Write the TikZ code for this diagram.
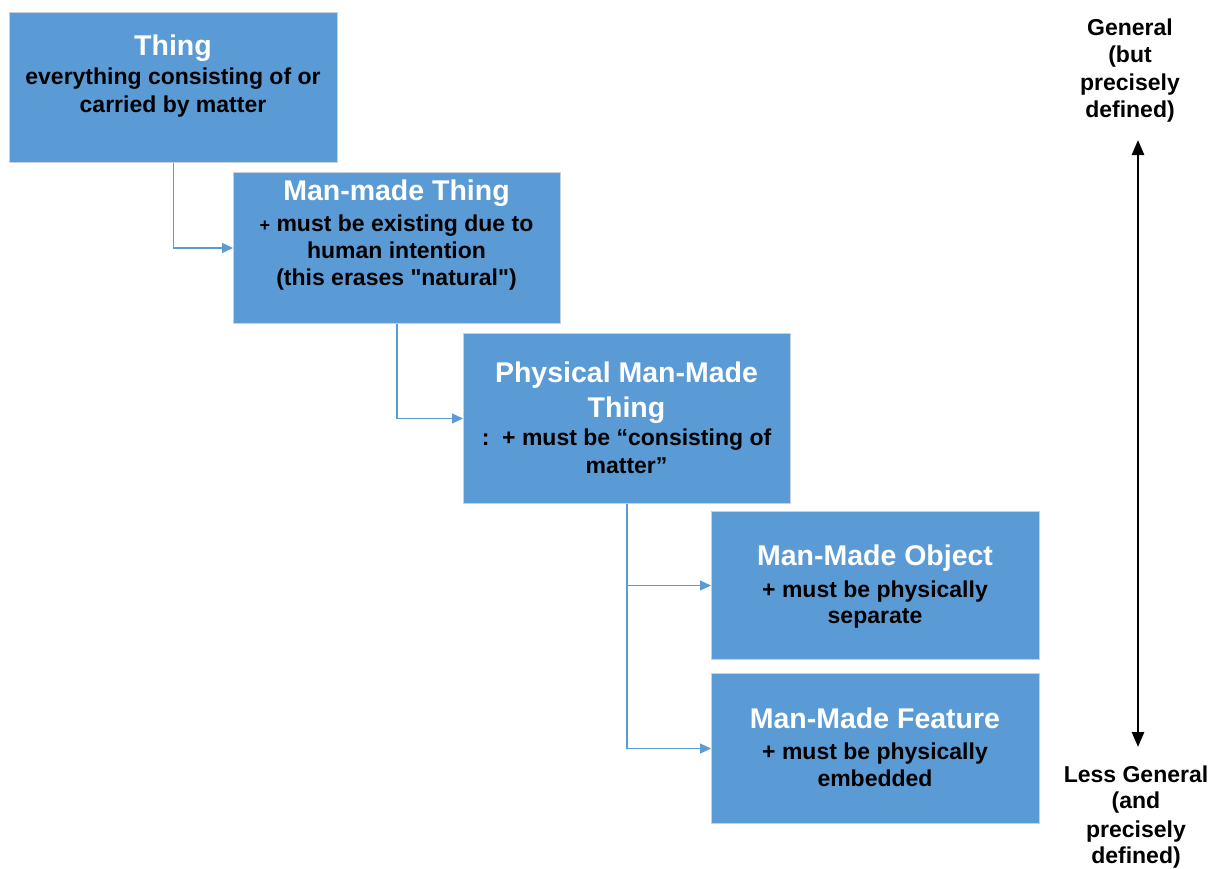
\documentclass[tikz,border=0pt]{standalone}
\usepackage{fontspec}
\setmainfont{Liberation Sans}[Ligatures=TeXOff]
\usetikzlibrary{arrows.meta}
\definecolor{boxblue}{HTML}{5B9BD5}
\definecolor{boxedge}{HTML}{C8D2DC}
\tikzset{
  box/.style={draw=boxedge, line width=1pt, fill=boxblue, rectangle, inner sep=0pt, anchor=north west},
  ttl/.style={anchor=base, inner sep=0pt, text=white, font=\fontsize{28.5}{34}\selectfont\bfseries},
  bdy/.style={anchor=base, inner sep=0pt, text=black, font=\fontsize{23}{27}\selectfont\bfseries},
  conn/.style={draw=boxblue, line width=1.3pt, -{Triangle[length=11pt,width=10pt]}},
  genarrow/.style={line width=2.6pt, {Triangle[length=15pt,width=12pt]}-{Triangle[length=15pt,width=12pt]}}
}
\begin{document}
\begin{tikzpicture}[x=1pt,y=-1pt]
\useasboundingbox (0,0) rectangle (1217,868);
% boxes
\node[box, minimum width=328pt, minimum height=150pt] (b1) at (9,12) {};
\node[box, minimum width=327pt, minimum height=151pt] (b2) at (233,172) {};
\node[box, minimum width=327pt, minimum height=170pt] (b3) at (463,333) {};
\node[box, minimum width=328pt, minimum height=148pt] (b4) at (711,511) {};
\node[box, minimum width=328pt, minimum height=150pt] (b5) at (711,673) {};
% texts box 1
\node[ttl] (b1t) at (173,55) {Thing};
\node[bdy] (b1a) at (173,84) {everything consisting of or};
\node[bdy] (b1b) at (173,112) {carried by matter};
% box 2
\node[ttl] (b2t) at (396.5,200) {Man-made Thing};
\node[bdy] (b2a) at (396.5,231) {{\fontsize{18}{20}\selectfont +} must be existing due to};
\node[bdy] (b2b) at (396.5,258) {human intention};
\node[bdy] (b2c) at (396.5,285) {(this erases "natural")};
% box 3
\node[ttl] (b3t) at (626.5,382) {Physical Man-Made};
\node[ttl] (b3u) at (626.5,417) {Thing};
\node[bdy] (b3a) at (626.5,445) {:~~+ must be “consisting of};
\node[bdy] (b3b) at (626.5,473) {matter”};
% box 4
\node[ttl] (b4t) at (875,565) {Man-Made Object};
\node[bdy] (b4a) at (875,597) {+ must be physically};
\node[bdy] (b4b) at (875,623) {separate};
% box 5
\node[ttl] (b5t) at (875,728) {Man-Made Feature};
\node[bdy] (b5a) at (875,759) {+ must be physically};
\node[bdy] (b5b) at (875,786) {embedded};
% connectors
\draw[conn] (b1.south) |- (b2.west);
\draw[conn] (b2.south) |- (b3.west);
\draw[conn] (b3.south) |- (b4.west);
\draw[conn] (b3.south) |- (b5.west);
% right scale
\coordinate (gtop) at (1138,140);
\coordinate (gbot) at (1138,747);
\draw[genarrow] (gtop) -- (gbot);
\node[bdy] (g1) at (1130,35) {General};
\node[bdy] (g2) at (1130,62) {(but};
\node[bdy] (g3) at (1130,90) {precisely};
\node[bdy] (g4) at (1130,117) {defined)};
\node[bdy] (l1) at (1136,782) {Less General};
\node[bdy] (l2) at (1136,808) {(and};
\node[bdy] (l3) at (1136,837) {precisely};
\node[bdy] (l4) at (1136,863) {defined)};
\end{tikzpicture}
\end{document}
